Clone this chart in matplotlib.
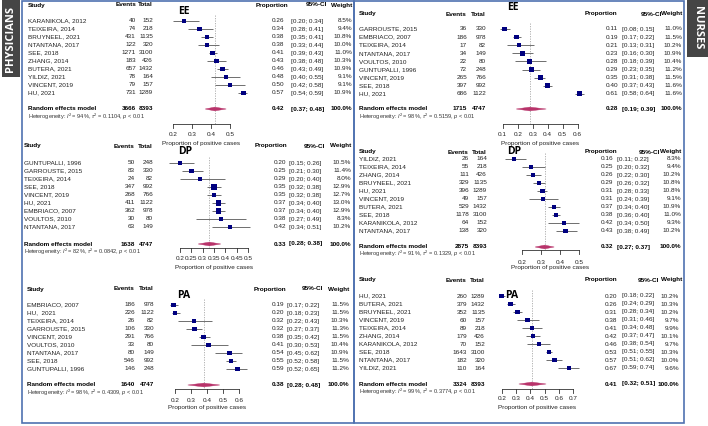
import numpy as np
import matplotlib
matplotlib.use("Agg")
import matplotlib.pyplot as plt
from matplotlib.patches import Rectangle, Polygon

plt.rcParams["font.family"] = ["Liberation Sans", "DejaVu Sans"]
plt.rcParams["mathtext.fontset"] = "custom"
plt.rcParams["mathtext.rm"] = "Liberation Sans"
plt.rcParams["mathtext.it"] = "Liberation Sans:italic"

# ---------------- data: physicians ----------------
phys_ee_study = ["KARANIKOLA, 2012", "TEIXEIRA, 2014", "BRUYNEEL, 2021", "NTANTANA, 2017", "SEE, 2018",
                 "ZHANG, 2014", "BUTERA, 2021", "YILDIZ, 2021", "VINCENT, 2019", "HU, 2021"]
phys_ee_events = [40, 74, 431, 122, 1271, 183, 657, 78, 79, 731]
phys_ee_total = [152, 218, 1135, 320, 3100, 426, 1432, 164, 157, 1289]
phys_ee_prop = [0.26, 0.34, 0.38, 0.38, 0.41, 0.43, 0.46, 0.48, 0.50, 0.57]
phys_ee_lo = [0.20, 0.28, 0.35, 0.33, 0.39, 0.38, 0.43, 0.40, 0.42, 0.54]
phys_ee_hi = [0.34, 0.41, 0.41, 0.44, 0.43, 0.48, 0.49, 0.55, 0.58, 0.59]
phys_ee_weight = [8.5, 9.4, 10.8, 10.0, 11.0, 10.3, 10.9, 9.1, 9.1, 10.9]
phys_ee_summary = [3666, 8393, 0.42, 0.37, 0.48]   # events, total, est, lo, hi
phys_ee_het = [94, 0.1104]                          # I2, tau2
phys_ee_ticks = [0.2, 0.3, 0.4, 0.5]

phys_dp_study = ["GUNTUPALLI, 1996", "GARROUSTE, 2015", "TEIXEIRA, 2014", "SEE, 2018", "VINCENT, 2019",
                 "HU, 2021", "EMBRIACO, 2007", "VOULTOS, 2010", "NTANTANA, 2017"]
phys_dp_events = [50, 83, 24, 347, 268, 411, 362, 30, 63]
phys_dp_total = [248, 330, 82, 992, 766, 1122, 978, 80, 149]
phys_dp_prop = [0.20, 0.25, 0.29, 0.35, 0.35, 0.37, 0.37, 0.38, 0.42]
phys_dp_lo = [0.15, 0.21, 0.20, 0.32, 0.32, 0.34, 0.34, 0.27, 0.34]
phys_dp_hi = [0.26, 0.30, 0.40, 0.38, 0.38, 0.40, 0.40, 0.49, 0.51]
phys_dp_weight = [10.5, 11.4, 8.0, 12.9, 12.7, 13.0, 12.9, 8.3, 10.2]
phys_dp_summary = [1638, 4747, 0.33, 0.28, 0.38]
phys_dp_het = [82, 0.0842]
phys_dp_ticks = [0.2, 0.25, 0.3, 0.35, 0.4, 0.45, 0.5]

phys_pa_study = ["EMBRIACO, 2007", "HU,  2021", "TEIXEIRA, 2014", "GARROUSTE, 2015", "VINCENT, 2019",
                 "VOULTOS, 2010", "NTANTANA, 2017", "SEE, 2018", "GUNTUPALLI, 1996"]
phys_pa_events = [186, 226, 26, 106, 291, 33, 80, 546, 146]
phys_pa_total = [978, 1122, 82, 330, 766, 80, 149, 992, 248]
phys_pa_prop = [0.19, 0.20, 0.32, 0.32, 0.38, 0.41, 0.54, 0.55, 0.59]
phys_pa_lo = [0.17, 0.18, 0.22, 0.27, 0.35, 0.30, 0.45, 0.52, 0.52]
phys_pa_hi = [0.22, 0.23, 0.43, 0.37, 0.42, 0.53, 0.62, 0.58, 0.65]
phys_pa_weight = [11.5, 11.5, 10.3, 11.3, 11.5, 10.4, 10.9, 11.5, 11.2]
phys_pa_summary = [1640, 4747, 0.38, 0.28, 0.48]
phys_pa_het = [98, 0.4309]
phys_pa_ticks = [0.2, 0.3, 0.4, 0.5, 0.6]

# ---------------- data: nurses ----------------
nurs_ee_study = ["GARROUSTE, 2015", "EMBRIACO, 2007", "TEIXEIRA, 2014", "NTANTANA, 2017", "VOULTOS, 2010",
                 "GUNTUPALLI, 1996", "VINCENT, 2019", "SEE, 2018", "HU, 2021"]
nurs_ee_events = [36, 186, 17, 34, 22, 72, 265, 397, 686]
nurs_ee_total = [330, 978, 82, 149, 80, 248, 766, 992, 1122]
nurs_ee_prop = [0.11, 0.19, 0.21, 0.23, 0.28, 0.29, 0.35, 0.40, 0.61]
nurs_ee_lo = [0.08, 0.17, 0.13, 0.16, 0.18, 0.23, 0.31, 0.37, 0.58]
nurs_ee_hi = [0.15, 0.22, 0.31, 0.30, 0.39, 0.35, 0.38, 0.43, 0.64]
nurs_ee_weight = [11.0, 11.5, 10.2, 10.9, 10.4, 11.2, 11.5, 11.6, 11.6]
nurs_ee_summary = [1715, 4747, 0.28, 0.19, 0.39]
nurs_ee_het = [98, 0.5159]
nurs_ee_ticks = [0.1, 0.2, 0.3, 0.4, 0.5, 0.6]

nurs_dp_study = ["YILDIZ, 2021", "TEIXEIRA, 2014", "ZHANG, 2014", "BRUYNEEL, 2021", "HU, 2021",
                 "VINCENT, 2019", "BUTERA, 2021", "SEE, 2018", "KARANIKOLA, 2012", "NTANTANA, 2017"]
nurs_dp_events = [26, 55, 111, 329, 396, 49, 529, 1178, 64, 138]
nurs_dp_total = [164, 218, 426, 1135, 1289, 157, 1432, 3100, 152, 320]
nurs_dp_prop = [0.16, 0.25, 0.26, 0.29, 0.31, 0.31, 0.37, 0.38, 0.42, 0.43]
nurs_dp_lo = [0.11, 0.20, 0.22, 0.26, 0.28, 0.24, 0.34, 0.36, 0.34, 0.38]
nurs_dp_hi = [0.22, 0.32, 0.30, 0.32, 0.33, 0.39, 0.40, 0.40, 0.50, 0.49]
nurs_dp_weight = [8.3, 9.4, 10.2, 10.8, 10.8, 9.1, 10.9, 11.0, 9.3, 10.2]
nurs_dp_summary = [2875, 8393, 0.32, 0.27, 0.37]
nurs_dp_het = [91, 0.1329]
nurs_dp_ticks = [0.2, 0.3, 0.4, 0.5]

nurs_pa_study = ["HU, 2021", "BUTERA, 2021", "BRUYNEEL, 2021", "VINCENT, 2019", "TEIXEIRA, 2014",
                 "ZHANG, 2014", "KARANIKOLA, 2012", "SEE, 2018", "NTANTANA, 2017", "YILDIZ, 2021"]
nurs_pa_events = [260, 379, 352, 60, 89, 179, 70, 1643, 182, 110]
nurs_pa_total = [1289, 1432, 1135, 157, 218, 426, 152, 3100, 320, 164]
nurs_pa_prop = [0.20, 0.26, 0.31, 0.38, 0.41, 0.42, 0.46, 0.53, 0.57, 0.67]
nurs_pa_lo = [0.18, 0.24, 0.28, 0.31, 0.34, 0.37, 0.38, 0.51, 0.51, 0.59]
nurs_pa_hi = [0.22, 0.29, 0.34, 0.46, 0.48, 0.47, 0.54, 0.55, 0.62, 0.74]
nurs_pa_weight = [10.2, 10.3, 10.2, 9.7, 9.9, 10.1, 9.7, 10.3, 10.0, 9.6]
nurs_pa_summary = [3324, 8393, 0.41, 0.32, 0.51]
nurs_pa_het = [99, 0.3774]
nurs_pa_ticks = [0.2, 0.3, 0.4, 0.5, 0.6, 0.7]

# ---------------- layout (pixel positions) ----------------
W, H = 708, 426
FS = 4.6
SQ_COL = "#00007F"
CI_COL = "#6E6E6E"
DIA_COL = "#B8336A"
BOX_COL = "#4F72B0"

fig = plt.figure(figsize=(W / 100, H / 100), dpi=100)
bg = fig.add_axes([0, 0, 1, 1])
bg.set_xlim(0, W)
bg.set_ylim(H, 0)
bg.axis("off")


def forest(study, events, total, prop, lo, hi, weight, summary, het, ticks, title, lay):
    p0, x0, p1, x1 = lay["scale"]
    b = (x1 - x0) / (p1 - p0)
    a = x0 - b * p0
    ax = fig.add_axes([0, 0, 1, 1])
    ax.set_xlim(-a / b, (W - a) / b)
    ax.set_ylim(H, 0)
    ax.axis("off")
    ax.patch.set_alpha(0)

    n = len(study)
    ys = lay["row0"] + lay["step"] * np.arange(n)
    est = summary[2]

    # headers
    hy = lay["hdr_y"]
    hk = dict(fontsize=FS, fontweight="bold", va="center")
    bg.text(lay["name_x"], hy, "Study", ha="left", **hk)
    bg.text(lay["ev_r"], hy, "Events", ha="right", **hk)
    bg.text(lay["tot_r"], hy, "Total", ha="right", **hk)
    bg.text(lay["hdr_prop_r"], hy, "Proportion", ha="right", **hk)
    bg.text(lay["hdr_ci_r"], hy, "95%-CI", ha="right", **hk)
    bg.text(lay.get("hdr_w_r", lay["w_r"]), hy, "Weight", ha="right", **hk)
    bg.text(lay["title_x"], lay["title_y"], title, fontsize=7.5, fontweight="bold",
            ha="left", va="center", family=["Open Sans", "DejaVu Sans"])

    # study rows
    tk = dict(fontsize=FS, va="center", color="#222222")
    for i in range(n):
        y = ys[i]
        bg.text(lay["name_x"], y, study[i], ha="left", **tk)
        bg.text(lay["ev_r"], y, str(events[i]), ha="right", **tk)
        bg.text(lay["tot_r"], y, str(total[i]), ha="right", **tk)
        bg.text(lay["prop_r"], y, f"{prop[i]:.2f}", ha="right", **tk)
        bg.text(lay["ci_l"], y, f"[{lo[i]:.2f}; {hi[i]:.2f}]", ha="left", **tk)
        bg.text(lay["w_r"], y, f"{weight[i]:.1f}%", ha="right", **tk)

    # reference line
    ax.vlines(est, lay["row0"] - 6, lay["axis_y"], colors="#A8A8A8", linestyles=(0, (1.5, 1.5)), lw=0.6)
    # CIs and squares
    ax.hlines(ys, lo, hi, colors=CI_COL, lw=0.7, zorder=2)
    side_pt = 1.4 * np.sqrt(np.array(weight)) * 0.72
    ax.scatter(prop, ys, marker="s", s=side_pt ** 2, c=SQ_COL, linewidths=0, zorder=3)

    # summary
    ry = lay["rand_y"]
    ax.add_patch(Polygon([(summary[3], ry), (est, ry - 1.9), (summary[4], ry), (est, ry + 1.9)],
                         closed=True, fc=DIA_COL, ec=DIA_COL, lw=0.3, zorder=3))
    sk = dict(fontsize=FS, fontweight="bold", va="center")
    bg.text(lay["name_x"], ry, "Random effects model", ha="left", **sk)
    bg.text(lay["ev_r"], ry, str(summary[0]), ha="right", **sk)
    bg.text(lay["tot_r"], ry, str(summary[1]), ha="right", **sk)
    bg.text(lay["prop_r"], ry, f"{est:.2f}", ha="right", **sk)
    bg.text(lay["ci_l"], ry, f"[{summary[3]:.2f}; {summary[4]:.2f}]", ha="left", **sk)
    bg.text(lay["w_r"], ry, "100.0%", ha="right", **sk)
    bg.text(lay["name_x"], lay["het_y"],
            r"Heterogeneity: $I^2$ = %d%%, $\tau^2$ = %.4f, $p$ < 0.01" % (het[0], het[1]),
            fontsize=4.1, ha="left", va="center", color="#333333")

    # x axis
    ay = lay["axis_y"]
    ax.plot([ticks[0], ticks[-1]], [ay, ay], color="#333333", lw=0.6)
    for t in ticks:
        ax.plot([t, t], [ay, ay + 3.5], color="#333333", lw=0.6)
        ax.text(t, lay["tick_y"], f"{t:g}", fontsize=FS, ha="center", va="center", color="#222222")
    ax.text((ticks[0] + ticks[-1]) / 2, lay["xlab_y"], "Proportion of positive cases",
            fontsize=FS, ha="center", va="center", color="#222222")


lay_phys_ee = dict(name_x=28, ev_r=136, tot_r=153, prop_r=284, ci_l=291, w_r=352, hdr_prop_r=288,
                   hdr_ci_r=327, hdr_y=5, title_x=178, title_y=11, row0=21, step=8, rand_y=109,
                   het_y=117, axis_y=124, tick_y=135, xlab_y=143, scale=(0.2, 172.7, 0.5, 230))
lay_phys_dp = dict(name_x=24, ev_r=135, tot_r=153, prop_r=286, ci_l=289, w_r=351, hdr_prop_r=287,
                   hdr_ci_r=325, hdr_y=146, title_x=178, title_y=152, row0=163, step=8, rand_y=244,
                   het_y=252, axis_y=248, tick_y=259, xlab_y=267, scale=(0.2, 180, 0.5, 248))
lay_phys_pa = dict(name_x=27, ev_r=135, tot_r=154, prop_r=284, ci_l=287, w_r=349, hdr_prop_r=286,
                   hdr_ci_r=323, hdr_y=289, title_x=177, title_y=296, row0=305, step=8, rand_y=385,
                   het_y=393, axis_y=389, tick_y=401, xlab_y=408, scale=(0.2, 175, 0.6, 239))
lay_nurs_ee = dict(name_x=359, ev_r=467, tot_r=486, prop_r=618, ci_l=622, w_r=682, hdr_prop_r=617,
                   hdr_ci_r=662, hdr_y=14, title_x=507, title_y=8, row0=29, step=8.1, rand_y=109,
                   het_y=117, axis_y=124, tick_y=135, xlab_y=143, scale=(0.1, 502.7, 0.6, 577.7))
lay_nurs_dp = dict(name_x=359, ev_r=469, tot_r=487, prop_r=613, ci_l=617, w_r=681, hdr_prop_r=617,
                   hdr_ci_r=660, hdr_y=152, title_x=507, title_y=152, row0=159, step=8, rand_y=247,
                   het_y=254, axis_y=250, tick_y=262, xlab_y=268, scale=(0.2, 521.7, 0.5, 579))
lay_nurs_pa = dict(name_x=359, ev_r=467, tot_r=485, prop_r=617, ci_l=622, w_r=679, hdr_w_r=682,
                   hdr_prop_r=617, hdr_ci_r=659, hdr_y=280, title_x=505, title_y=296, row0=296,
                   step=8, rand_y=384, het_y=392, axis_y=389, tick_y=399, xlab_y=407,
                   scale=(0.2, 501.7, 0.7, 573.3))

forest(phys_ee_study, phys_ee_events, phys_ee_total, phys_ee_prop, phys_ee_lo, phys_ee_hi,
       phys_ee_weight, phys_ee_summary, phys_ee_het, phys_ee_ticks, "EE", lay_phys_ee)
forest(phys_dp_study, phys_dp_events, phys_dp_total, phys_dp_prop, phys_dp_lo, phys_dp_hi,
       phys_dp_weight, phys_dp_summary, phys_dp_het, phys_dp_ticks, "DP", lay_phys_dp)
forest(phys_pa_study, phys_pa_events, phys_pa_total, phys_pa_prop, phys_pa_lo, phys_pa_hi,
       phys_pa_weight, phys_pa_summary, phys_pa_het, phys_pa_ticks, "PA", lay_phys_pa)
forest(nurs_ee_study, nurs_ee_events, nurs_ee_total, nurs_ee_prop, nurs_ee_lo, nurs_ee_hi,
       nurs_ee_weight, nurs_ee_summary, nurs_ee_het, nurs_ee_ticks, "EE", lay_nurs_ee)
forest(nurs_dp_study, nurs_dp_events, nurs_dp_total, nurs_dp_prop, nurs_dp_lo, nurs_dp_hi,
       nurs_dp_weight, nurs_dp_summary, nurs_dp_het, nurs_dp_ticks, "DP", lay_nurs_dp)
forest(nurs_pa_study, nurs_pa_events, nurs_pa_total, nurs_pa_prop, nurs_pa_lo, nurs_pa_hi,
       nurs_pa_weight, nurs_pa_summary, nurs_pa_het, nurs_pa_ticks, "PA", lay_nurs_pa)

# panel frames and side labels
bg.add_patch(Rectangle((22, 1), 332, 422, fill=False, ec=BOX_COL, lw=1.2))
bg.add_patch(Rectangle((354, 1), 330, 422, fill=False, ec=BOX_COL, lw=1.2))
bg.add_patch(Rectangle((2, 0), 18, 77, fc="#454545", ec="none"))
bg.text(11, 39, "PHYSICIANS", rotation=90, color="white", fontsize=8, fontweight="bold",
        ha="center", va="center", family=["Open Sans", "DejaVu Sans"])
bg.add_patch(Rectangle((687, 0), 21, 57, fc="#454545", ec="none"))
bg.text(697.5, 28, "NURSES", rotation=-90, color="white", fontsize=8, fontweight="bold",
        ha="center", va="center", family=["Open Sans", "DejaVu Sans"])

fig.savefig("out.png", dpi=100)
